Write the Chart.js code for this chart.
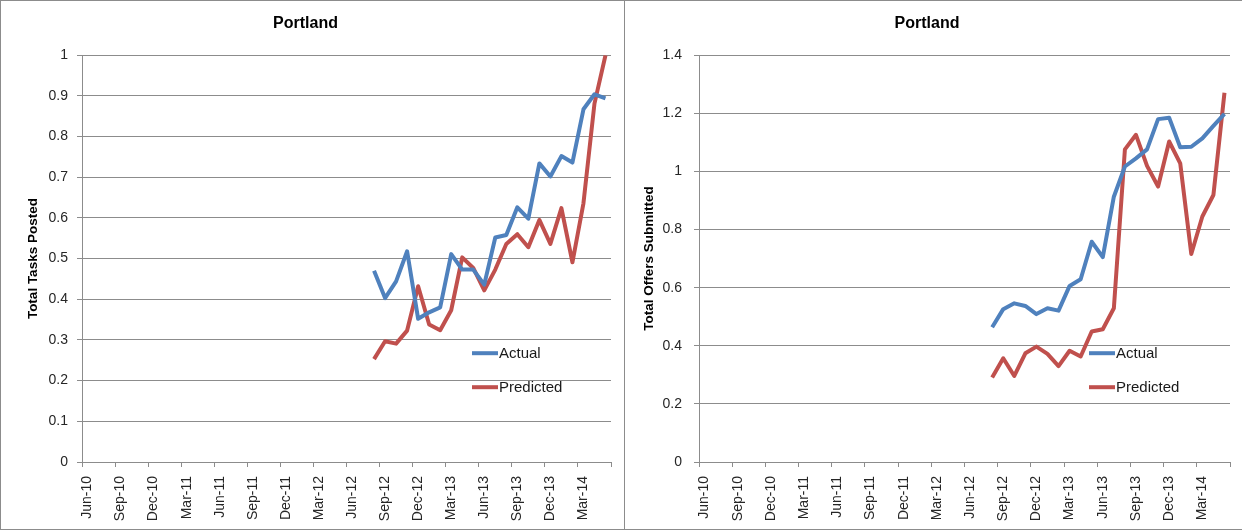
<!DOCTYPE html>
<html>
<head>
<meta charset="utf-8">
<script src="https://cdn.jsdelivr.net/npm/chart.js@4.4.0/dist/chart.umd.min.js"></script>
<style>
  body { margin: 0; background: #fff; width: 1242px; height: 531px; overflow: hidden; position: relative; }
  .panel { position: absolute; border: 1px solid #8c8c8c; box-sizing: border-box; }
  canvas { position: absolute; }
</style>
</head>
<body>
<div class="panel" style="left:0;top:0;width:625px;height:530px"></div>
<div class="panel" style="left:624px;top:0;width:640px;height:530px"></div>
<canvas id="tasksChart" width="624" height="530" style="left:0;top:0"></canvas>
<canvas id="offersChart" width="618" height="530" style="left:624px;top:0"></canvas>
<script>
// month axis, Jun-10 .. May-14 (labels shown every 3rd month)
const months = [
  'Jun-10', 'Jul-10', 'Aug-10', 'Sep-10', 'Oct-10', 'Nov-10', 'Dec-10',
  'Jan-11', 'Feb-11', 'Mar-11', 'Apr-11', 'May-11', 'Jun-11', 'Jul-11', 'Aug-11', 'Sep-11', 'Oct-11', 'Nov-11', 'Dec-11',
  'Jan-12', 'Feb-12', 'Mar-12', 'Apr-12', 'May-12', 'Jun-12', 'Jul-12', 'Aug-12', 'Sep-12', 'Oct-12', 'Nov-12', 'Dec-12',
  'Jan-13', 'Feb-13', 'Mar-13', 'Apr-13', 'May-13', 'Jun-13', 'Jul-13', 'Aug-13', 'Sep-13', 'Oct-13', 'Nov-13', 'Dec-13',
  'Jan-14', 'Feb-14', 'Mar-14', 'Apr-14', 'May-14'
];

// months that actually have data
const dataMonths = [
  'Aug-12', 'Sep-12', 'Oct-12', 'Nov-12', 'Dec-12', 'Jan-13', 'Feb-13', 'Mar-13', 'Apr-13', 'May-13', 'Jun-13',
  'Jul-13', 'Aug-13', 'Sep-13', 'Oct-13', 'Nov-13', 'Dec-13', 'Jan-14', 'Feb-14', 'Mar-14', 'Apr-14', 'May-14'
];

const tasksActual = [0.470, 0.403, 0.444, 0.518, 0.352, 0.368, 0.380, 0.511, 0.473, 0.473, 0.436,
  0.552, 0.558, 0.626, 0.598, 0.734, 0.702, 0.752, 0.736, 0.867, 0.904, 0.894];
const tasksPredicted = [0.253, 0.297, 0.291, 0.323, 0.432, 0.338, 0.324, 0.373, 0.503, 0.477, 0.422,
  0.473, 0.536, 0.560, 0.528, 0.595, 0.536, 0.624, 0.491, 0.636, 0.881, 1.0];

const offersActual = [0.464, 0.526, 0.546, 0.537, 0.509, 0.529, 0.521, 0.606, 0.629, 0.758, 0.705,
  0.913, 1.017, 1.045, 1.076, 1.180, 1.185, 1.083, 1.085, 1.114, 1.157, 1.198];
const offersPredicted = [0.291, 0.357, 0.296, 0.374, 0.397, 0.372, 0.330, 0.383, 0.363, 0.449, 0.457,
  0.529, 1.076, 1.126, 1.019, 0.948, 1.103, 1.028, 0.716, 0.845, 0.919, 1.271];

const seriesNames = ['Actual', 'Predicted'];
const seriesColors = ['#4f81bd', '#c0504d'];

const FONT = '"Liberation Sans", Arial, sans-serif';
const gridColor = '#8c8c8c';
const textColor = '#262626';

// legend sits inside the plot area like the excel one
const insideLegend = {
  id: 'insideLegend',
  afterDatasetsDraw(chart) {
    const { ctx, chartArea } = chart;
    const x = chartArea.left + 390;
    ctx.save();
    ctx.font = '15px ' + FONT;
    ctx.textBaseline = 'middle';
    chart.data.datasets.forEach((ds, i) => {
      const y = chartArea.top + 298 + i * 34;
      ctx.strokeStyle = ds.borderColor;
      ctx.lineWidth = 4;
      ctx.beginPath();
      ctx.moveTo(x, y);
      ctx.lineTo(x + 26, y);
      ctx.stroke();
      ctx.fillStyle = '#1a1a1a';
      ctx.fillText(ds.label, x + 27, y + 1);
    });
    ctx.restore();
  }
};

function toPoints(values) {
  return values.map((v, i) => ({ x: dataMonths[i], y: v }));
}

function makeChart(id, yTitle, yMax, yStep, actual, predicted, g) {
  return new Chart(document.getElementById(id), {
    type: 'line',
    data: {
      labels: months,
      datasets: [actual, predicted].map((vals, i) => ({
        label: seriesNames[i],
        data: toPoints(vals),
        borderColor: seriesColors[i],
        backgroundColor: seriesColors[i],
        borderWidth: 4,
        pointRadius: 0,
        tension: 0,
        borderJoinStyle: 'round',
        fill: false
      }))
    },
    options: {
      responsive: false,
      animation: false,
      layout: { padding: { left: 0, right: g.rightPad, top: 0, bottom: 0 } },
      plugins: {
        legend: { display: false },
        tooltip: { enabled: false },
        title: {
          display: true,
          text: 'Portland',
          color: '#000',
          font: { family: FONT, size: 16, weight: 'bold' },
          padding: { top: 14, bottom: 22 }
        }
      },
      scales: {
        x: {
          type: 'category',
          offset: true,
          grid: {
            offset: true,
            drawOnChartArea: false,
            drawTicks: true,
            tickLength: 5,
            tickColor: ctx => (ctx.type !== 'tick' || ctx.index % 3 === 0) ? gridColor : 'rgba(0,0,0,0)'
          },
          border: { color: gridColor },
          ticks: {
            autoSkip: false,
            minRotation: 90,
            maxRotation: 90,
            padding: 9,
            color: textColor,
            font: { family: FONT, size: 14 },
            callback: function (v, i) { return i % 3 === 0 ? this.getLabelForValue(v) : ''; }
          },
          afterFit: s => { s.height = 68; s.paddingLeft = 0; s.paddingRight = 0; }
        },
        y: {
          min: 0,
          max: yMax,
          ticks: {
            stepSize: yStep,
            padding: g.tickPad,
            color: textColor,
            font: { family: FONT, size: 14 },
            callback: v => String(Number(v.toFixed(2)))
          },
          grid: { color: gridColor, tickLength: 5 },
          border: { color: gridColor },
          title: {
            display: true,
            text: yTitle,
            color: '#000',
            font: { family: FONT, size: 13.5, weight: 'bold' },
            padding: { top: g.titlePad, bottom: 0 }
          },
          afterFit: s => { s.width = g.axisWidth; }
        }
      }
    },
    plugins: [insideLegend]
  });
}

makeChart('tasksChart', 'Total Tasks Posted', 1, 0.1, tasksActual, tasksPredicted,
  { axisWidth: 82, rightPad: 13, tickPad: 9, titlePad: 25 });
makeChart('offersChart', 'Total Offers Submitted', 1.4, 0.2, offersActual, offersPredicted,
  { axisWidth: 75, rightPad: 12, tickPad: 12, titlePad: 17 });
</script>
</body>
</html>
